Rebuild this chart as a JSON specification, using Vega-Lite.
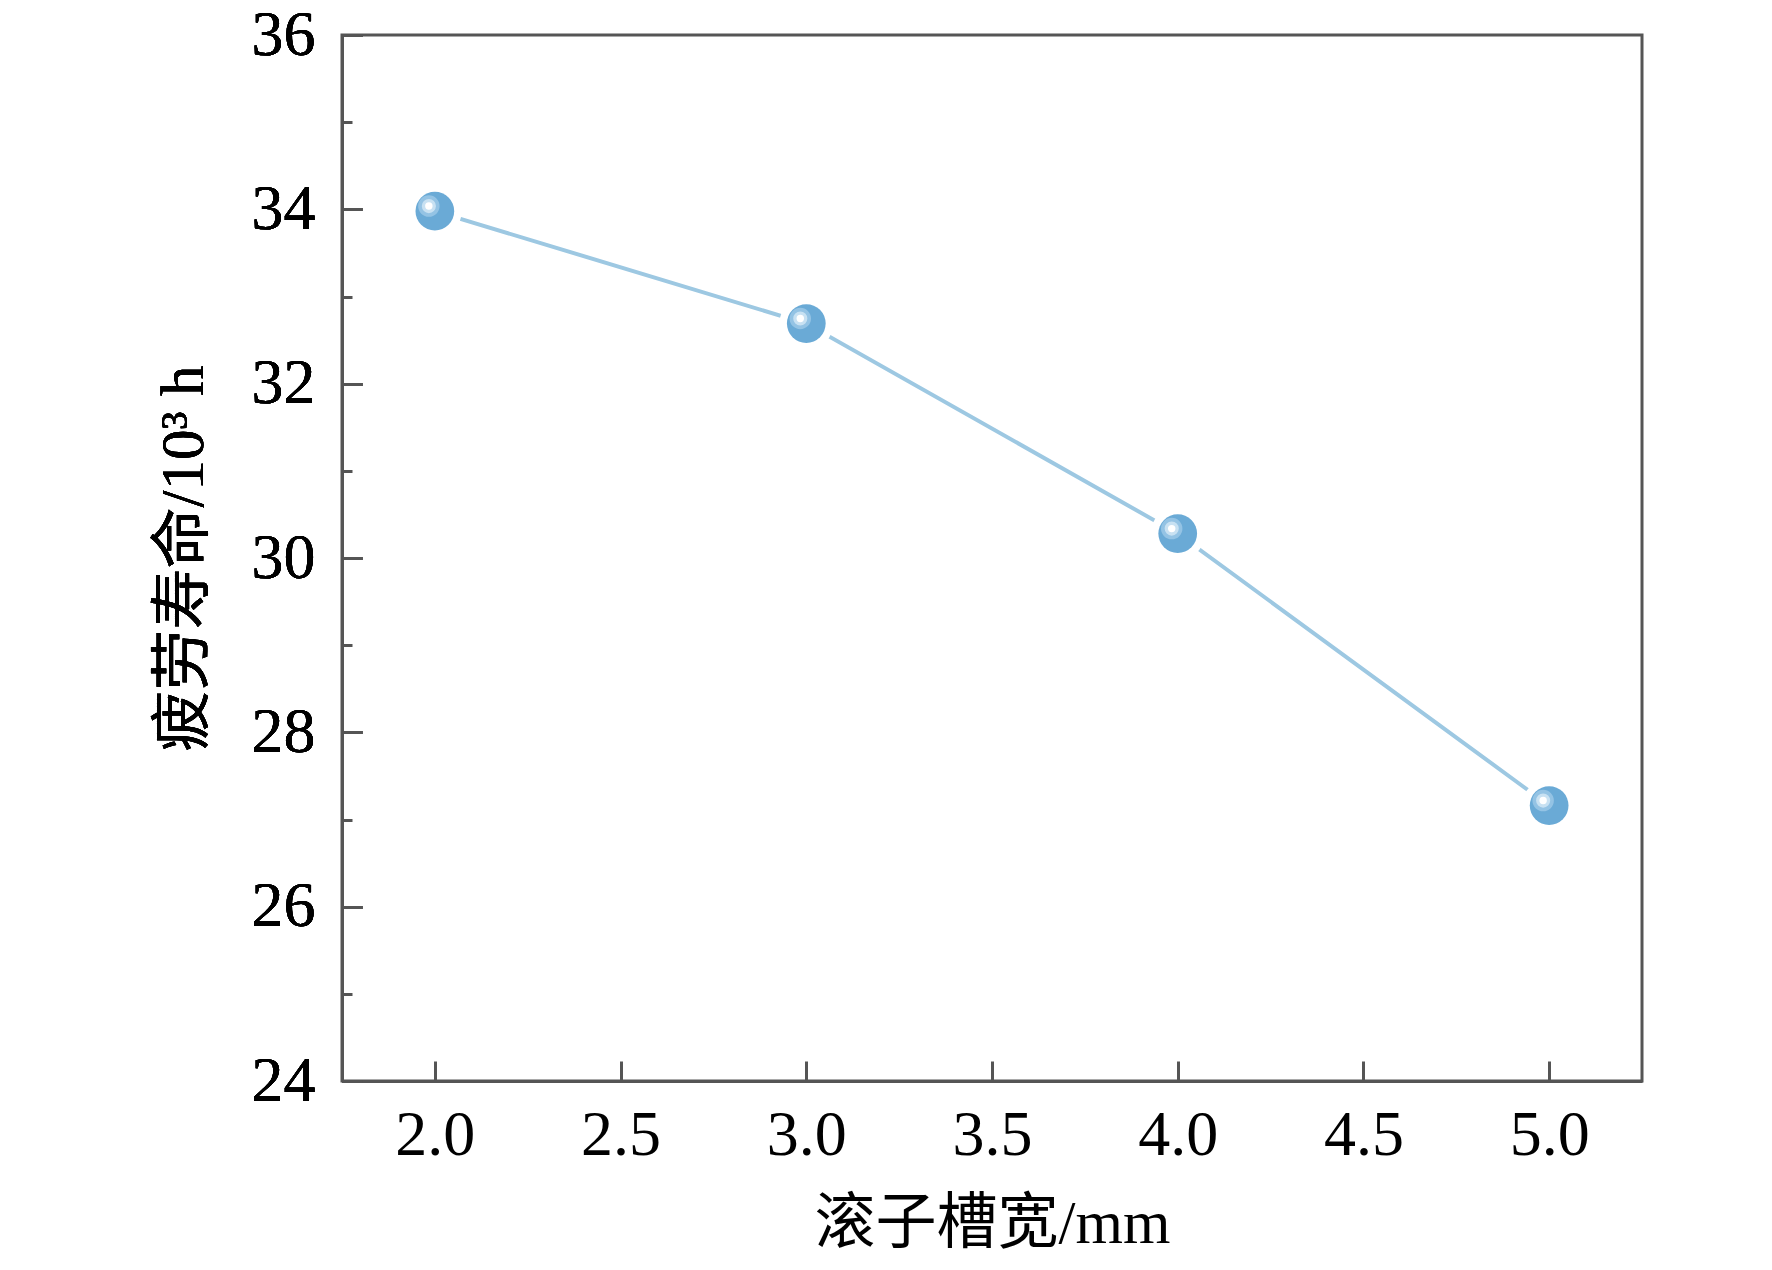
{
  "$schema": "https://vega.github.io/schema/vega-lite/v6.json",
  "width": 1300,
  "height": 1046,
  "autosize": {"type": "none"},
  "padding": {"left": 342, "top": 35, "right": 130, "bottom": 189},
  "background": "white",
  "config": {
    "view": {"stroke": "#555555", "strokeWidth": 3},
    "axis": {
      "domainColor": "#555555",
      "domainWidth": 3,
      "tickColor": "#555555",
      "tickWidth": 3,
      "grid": false,
      "labelFont": "Liberation Serif, Times New Roman, serif",
      "labelFontSize": 64,
      "labelColor": "black",
      "titleFont": "Liberation Serif, Noto Sans CJK SC",
      "titleFontSize": 61,
      "titleFontWeight": "normal",
      "titleColor": "black"
    }
  },
  "data": {
    "values": [
      {"width": 2.0, "life": 33.98},
      {"width": 3.0, "life": 32.69},
      {"width": 4.0, "life": 30.28},
      {"width": 5.0, "life": 27.16}
    ]
  },
  "encoding": {
    "x": {
      "field": "width",
      "type": "quantitative",
      "scale": {"domain": [1.75, 5.25], "nice": false, "zero": false},
      "axis": {
        "title": "滚子槽宽/mm",
        "values": [2, 2.5, 3, 3.5, 4, 4.5, 5],
        "format": ".1f",
        "tickSize": -20,
        "labelPadding": 42,
        "titlePadding": 27
      }
    },
    "y": {
      "field": "life",
      "type": "quantitative",
      "scale": {"domain": [24, 36], "nice": false, "zero": false},
      "axis": {
        "title": "疲劳寿命/10³ h",
        "orient": "left",
        "values": [24, 26, 28, 30, 32, 34, 36],
        "tickSize": -20,
        "labelPadding": 47,
        "titlePadding": 36
      }
    }
  },
  "layer": [
    {
      "mark": {"type": "line", "color": "#9dc8e2", "strokeWidth": 4}
    },
    {
      "mark": {"type": "circle", "color": "white", "opacity": 1, "size": 2900}
    },
    {
      "mark": {"type": "circle", "color": "#6aaad6", "opacity": 1, "size": 1500},
      "encoding": {
        "y": {
          "field": "life",
          "type": "quantitative",
          "axis": {
            "orient": "left",
            "values": [25, 27, 29, 31, 33, 35],
            "tickSize": -10,
            "labels": false,
            "domain": false,
            "title": null
          }
        }
      }
    },
    {
      "mark": {"type": "circle", "color": "#94c3e4", "opacity": 1, "size": 460, "xOffset": -6, "yOffset": -5}
    },
    {
      "mark": {"type": "circle", "color": "#c8e1f2", "opacity": 1, "size": 200, "xOffset": -6, "yOffset": -5}
    },
    {
      "mark": {"type": "circle", "color": "white", "opacity": 1, "size": 55, "xOffset": -6, "yOffset": -5}
    }
  ],
  "resolve": {"axis": {"y": "independent"}}
}
